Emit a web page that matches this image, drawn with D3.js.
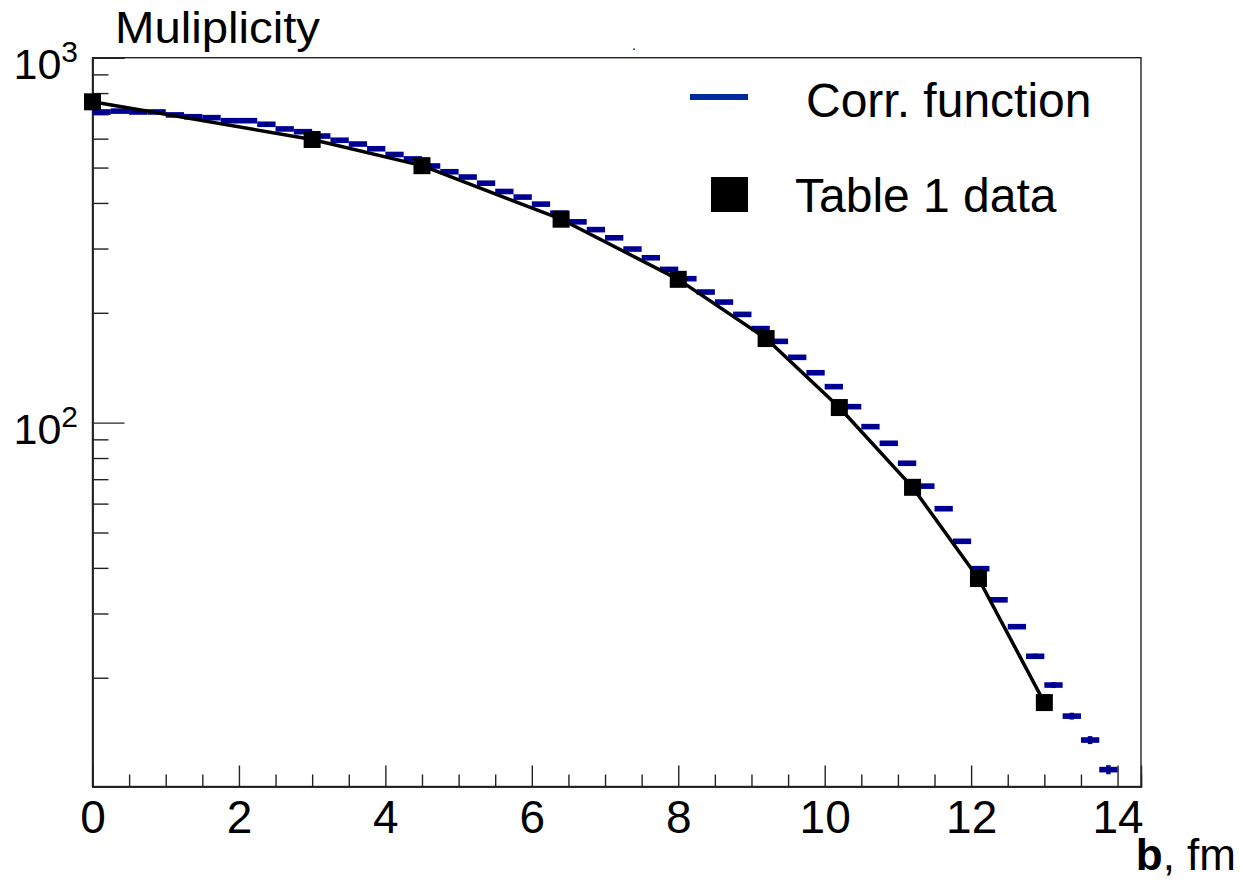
<!DOCTYPE html>
<html>
<head>
<meta charset="utf-8">
<script src="https://cdn.jsdelivr.net/npm/d3@7"></script>
<style>
  body { margin: 0; background: #fff; }
  svg { display: block; }
  text { font-family: "Liberation Sans", Arial, Helvetica, sans-serif; fill: #000; }
</style>
</head>
<body>
<svg id="chart" width="1241" height="889"></svg>
<script>
// Multiplicity vs impact parameter b (fm)

// Correlation-function histogram: bin centres (fm), contents and errors
const corrBinCenters = [
  0.125, 0.375, 0.625, 0.875, 1.125, 1.375, 1.625, 1.875, 2.125, 2.375,
  2.625, 2.875, 3.125, 3.375, 3.625, 3.875, 4.125, 4.375, 4.625, 4.875,
  5.125, 5.375, 5.625, 5.875, 6.125, 6.375, 6.625, 6.875, 7.125, 7.375,
  7.625, 7.875, 8.125, 8.375, 8.625, 8.875, 9.125, 9.375, 9.625, 9.875,
  10.125, 10.375, 10.625, 10.875, 11.125, 11.375, 11.625, 11.875, 12.125, 12.375,
  12.625, 12.875, 13.125, 13.375, 13.625, 13.875
];
const corrValues = [
  710, 714, 710, 710, 697, 689, 685, 672, 672, 657,
  638, 627, 610, 594, 580, 563, 543, 528, 505, 487,
  471, 453, 430, 415, 397, 375, 355, 338, 321, 299,
  283, 263, 248, 228, 214, 198, 181, 167, 151, 137,
  125.5, 110.6, 97.5, 87.8, 77.4, 67, 58.1, 47.3, 39.8, 32.7,
  27.6, 22.9, 19.1, 15.7, 13.5, 11.2
];
const corrErrors = [
  3, 3, 3, 3, 3, 3, 3, 3, 3, 3,
  3, 3, 3, 3, 3, 3, 3, 3, 2.5, 2.5,
  2.5, 2.5, 2, 2, 2, 2, 2, 2, 1.5, 1.5,
  1.5, 1.5, 1.5, 1.2, 1.2, 1.2, 1, 1, 1, 0.9,
  0.8, 0.8, 0.7, 0.6, 0.6, 0.5, 0.5, 0.45, 0.4, 0.4,
  0.4, 0.38, 0.36, 0.34, 0.34, 0.32
];
const corrBinWidth = 0.25;

// Table 1 data points
const tableB = [0, 3, 4.5, 6.4, 8, 9.2, 10.2, 11.2, 12.1, 13];
const tableMult = [757, 597, 506, 361, 247, 170, 110, 66.5, 37.4, 17.1];

// Axis ticks
const xMajorTicks = [0, 2, 4, 6, 8, 10, 12, 14];
const xMinorTicks = [0.5, 1, 1.5, 2.5, 3, 3.5, 4.5, 5, 5.5, 6.5, 7, 7.5,
                     8.5, 9, 9.5, 10.5, 11, 11.5, 12.5, 13, 13.5];
const yMajorTicks = [100, 1000];
const yMinorTicks = [20, 30, 40, 50, 60, 70, 80, 90,
                     200, 300, 400, 500, 600, 700, 800, 900];

const blue = "#000099";
const legendBlue = "#002a9e";

const frame = { left: 92.5, right: 1141, top: 57.7, bottom: 786.5 };

const svg = d3.select("#chart");
svg.append("rect").attr("width", 1241).attr("height", 889).attr("fill", "#fff");

const x = d3.scaleLinear().domain([0, 14.32]).range([frame.left, frame.right]);
const y = d3.scaleLog().domain([10.07, 1000]).range([frame.bottom, frame.top]);

// frame
svg.append("rect")
  .attr("x", frame.left).attr("y", frame.top)
  .attr("width", frame.right - frame.left).attr("height", frame.bottom - frame.top)
  .attr("fill", "none").attr("stroke", "#222").attr("stroke-width", 1.4);

// x axis: major ticks with labels, minor ticks without
const gxMinor = svg.append("g").attr("transform", `translate(0,${frame.bottom})`)
  .call(d3.axisBottom(x).tickValues(xMinorTicks).tickSize(-12).tickFormat(""));
const gx = svg.append("g").attr("transform", `translate(0,${frame.bottom})`)
  .call(d3.axisBottom(x).tickValues(xMajorTicks).tickSize(-21).tickFormat(d3.format("d")));
[gx, gxMinor].forEach(g => {
  g.select(".domain").attr("stroke", "#222").attr("stroke-width", 1.4);
  g.selectAll(".tick line").attr("stroke", "#222").attr("stroke-width", 1.4);
});
gx.selectAll(".tick text")
  .attr("y", 46).attr("dy", null)
  .attr("font-size", 46).attr("font-family", null);

// y axis: log decades with superscript labels
const gyMinor = svg.append("g").attr("transform", `translate(${frame.left},0)`)
  .call(d3.axisLeft(y).tickValues(yMinorTicks).tickSize(-16).tickFormat(""));
const gy = svg.append("g").attr("transform", `translate(${frame.left},0)`)
  .call(d3.axisLeft(y).tickValues(yMajorTicks).tickSize(-32).tickFormat(""));
[gy, gyMinor].forEach(g => {
  g.select(".domain").attr("stroke", "#222").attr("stroke-width", 1.4);
  g.selectAll(".tick line").attr("stroke", "#222").attr("stroke-width", 1.4);
});
gy.selectAll(".tick text").each(function(d) {
  const t = d3.select(this)
    .attr("x", -14.5).attr("y", 20.5).attr("dy", null)
    .attr("text-anchor", "end").attr("font-family", null).attr("font-size", 43);
  t.append("tspan").text("10");
  t.append("tspan").attr("font-size", 30).attr("dy", -17).text(Math.round(Math.log10(d)));
});

// correlation-function histogram: horizontal bin bars, error bars, centre dots
const corr = corrBinCenters.map((c, i) => ({ c, v: corrValues[i], e: corrErrors[i] }));
const gCorr = svg.append("g");
gCorr.selectAll("line.err").data(corr).join("line").attr("class", "err")
  .attr("x1", d => x(d.c)).attr("x2", d => x(d.c))
  .attr("y1", d => y(d.v - d.e)).attr("y2", d => y(d.v + d.e))
  .attr("stroke", blue).attr("stroke-width", 4.5);
gCorr.selectAll("rect.bin").data(corr).join("rect").attr("class", "bin")
  .attr("x", d => x(d.c - corrBinWidth / 2))
  .attr("width", d => x(d.c + corrBinWidth / 2) - x(d.c - corrBinWidth / 2))
  .attr("y", d => y(d.v) - 2.8).attr("height", 5.6)
  .attr("fill", blue);
gCorr.selectAll("circle").data(corr).join("circle")
  .attr("cx", d => x(d.c)).attr("cy", d => y(d.v)).attr("r", 0.8)
  .attr("fill", "#000");

// Table 1 data: connecting line and square markers
const table = tableB.map((b, i) => ({ b, m: tableMult[i] }));
svg.append("path").datum(table)
  .attr("d", d3.line().x(d => x(d.b)).y(d => y(d.m)))
  .attr("fill", "none").attr("stroke", "#000").attr("stroke-width", 3.5)
  .attr("stroke-linejoin", "round");
svg.append("g").selectAll("rect").data(table).join("rect")
  .attr("x", d => x(d.b) - 8.5).attr("y", d => y(d.m) - 8.5)
  .attr("width", 17).attr("height", 17).attr("fill", "#000");

// legend
const legend = svg.append("g");
legend.append("line").attr("x1", 690).attr("x2", 748).attr("y1", 97).attr("y2", 97)
  .attr("stroke", legendBlue).attr("stroke-width", 6);
legend.append("text").attr("x", 806).attr("y", 117).attr("font-size", 48).text("Corr. function");
legend.append("rect").attr("x", 711).attr("y", 177).attr("width", 37).attr("height", 35).attr("fill", "#000");
legend.append("text").attr("x", 795).attr("y", 212).attr("font-size", 48).text("Table 1 data");

// titles
svg.append("text").attr("x", 115).attr("y", 43).attr("font-size", 44)
  .attr("textLength", 205).attr("lengthAdjust", "spacingAndGlyphs").text("Muliplicity");
svg.append("text").attr("x", 632).attr("y", 50).attr("font-size", 14).text(".");
const xt = svg.append("text").attr("x", 1236).attr("y", 870).attr("text-anchor", "end").attr("font-size", 44);
xt.append("tspan").attr("font-weight", "bold").text("b");
xt.append("tspan").text(", fm");
</script>
</body>
</html>
